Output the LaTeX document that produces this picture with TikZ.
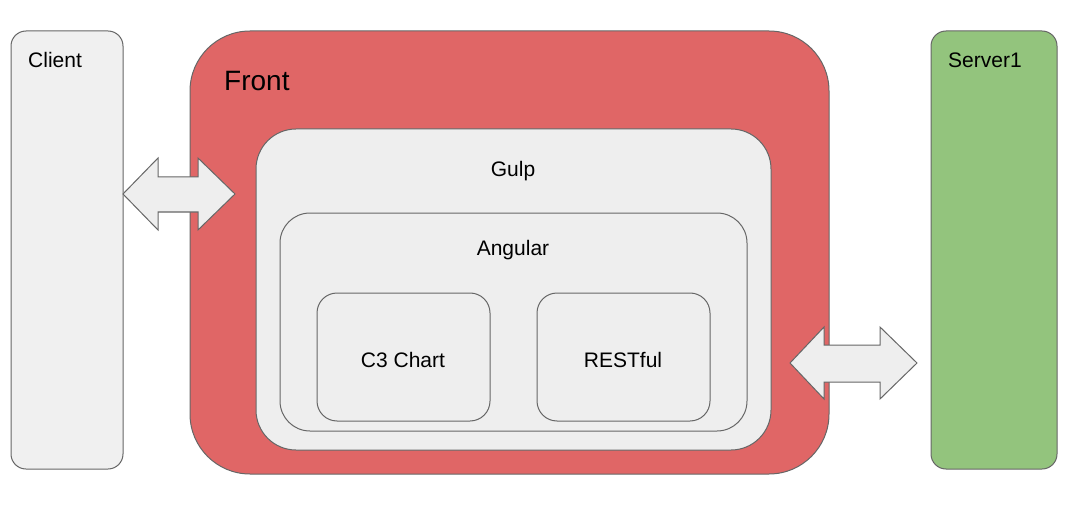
\documentclass[tikz,border=0pt]{standalone}
\usepackage{fontspec}
\setmainfont{Liberation Sans}
\definecolor{boxgray}{HTML}{F0F0F0}
\definecolor{innergray}{HTML}{EEEEEE}
\definecolor{edge}{HTML}{666666}
\definecolor{frontred}{HTML}{E06666}
\definecolor{servergreen}{HTML}{93C47D}
\begin{document}
\begin{tikzpicture}[x=1pt,y=-1pt,
  box/.style={draw=edge,line width=1pt},
  lbl/.style={font=\fontsize{21}{24}\selectfont,text=black,inner sep=0pt},
  arrowshape/.style={draw=edge,fill=innergray,line width=1pt,line join=miter}]
\useasboundingbox (0,0) rectangle (1081,513);
% outer boxes
\draw[box,fill=boxgray,rounded corners=15pt] (11,31) rectangle (123,469);
\draw[box,fill=frontred,rounded corners=60pt] (190,31) rectangle (829,474);
\draw[box,fill=servergreen,rounded corners=15pt] (931,31) rectangle (1057,469);
\draw[box,fill=innergray,rounded corners=40pt] (256,129) rectangle (771,450);
\draw[box,fill=innergray,rounded corners=30pt] (280,213) rectangle (747,431);
\draw[box,fill=innergray,rounded corners=20pt] (317,293) rectangle (490,421);
\draw[box,fill=innergray,rounded corners=20pt] (537,293) rectangle (710,421);
% labels
\node[lbl,anchor=west] (client) at (28,60) {Client};
\node[lbl,anchor=west,font=\fontsize{28}{32}\selectfont] (front) at (224,81) {Front};
\node[lbl,anchor=west] (server) at (948,60) {Server1};
\node[lbl] (gulp) at (513,171) {Gulp};
\node[lbl] (angular) at (513,250) {Angular};
\node[lbl] (c3) at (403,360) {C3 Chart};
\node[lbl] (rest) at (623,360) {RESTful};
% double arrows
\draw[arrowshape] (123,194) -- (158,158) -- (158,177) -- (198,177) -- (198,158) -- (235,194)
  -- (198,230) -- (198,212) -- (158,212) -- (158,230) -- cycle;
\draw[arrowshape] (790,363) -- (824,327) -- (824,345) -- (880,345) -- (880,327) -- (917,363)
  -- (880,399) -- (880,382) -- (824,382) -- (824,399) -- cycle;
\end{tikzpicture}
\end{document}
